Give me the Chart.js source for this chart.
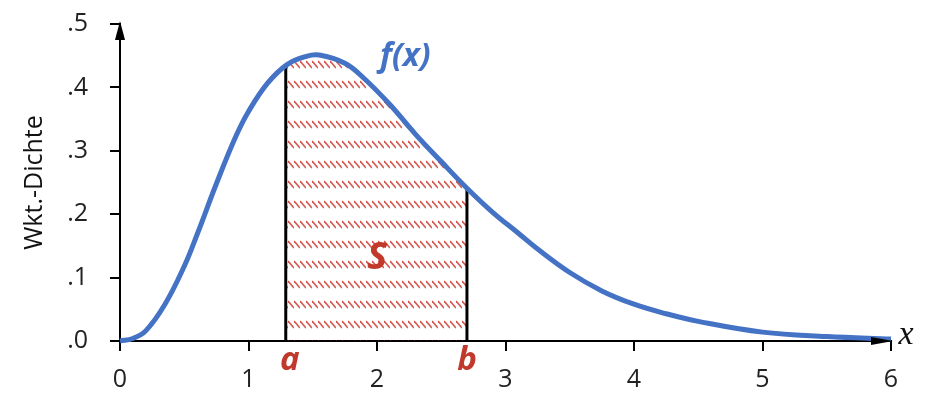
<!DOCTYPE html>
<html>
<head>
<meta charset="utf-8">
<script src="https://cdn.jsdelivr.net/npm/chart.js@4"></script>
<style>
  html, body { margin: 0; padding: 0; background: #fff; }
  #wrap { width: 942px; height: 404px; position: relative; }
</style>
</head>
<body>
<div id="wrap"><canvas id="chart"></canvas></div>
<script>
// values
const xValues = [0, 0.1, 0.2, 0.35, 0.5, 0.6, 0.75, 0.9, 1.0, 1.15, 1.3, 1.45, 1.55, 1.75, 1.9, 2.1, 2.3, 2.5, 2.7, 2.9, 3.1, 3.25, 3.5, 3.75, 4.0, 4.25, 4.5, 5.0, 5.5, 6.0];
const densityValues = [0, 0.004, 0.016, 0.058, 0.118, 0.168, 0.248, 0.322, 0.362, 0.407, 0.436, 0.449, 0.451, 0.438, 0.414, 0.373, 0.326, 0.283, 0.241, 0.203, 0.170, 0.145, 0.108, 0.079, 0.058, 0.043, 0.031, 0.014, 0.007, 0.003];
const boundA = 1.29;
const boundB = 2.70;
const densityAtA = 0.435;
const densityAtB = 0.241;
const xTickLabels = ['0', '1', '2', '3', '4', '5', '6'];
const yTickLabels = ['.0', '.1', '.2', '.3', '.4', '.5'];

const curvePoints = xValues.map((x, i) => ({ x: x, y: densityValues[i] }));
const areaPoints = [{ x: boundA, y: densityAtA }]
  .concat(curvePoints.filter(p => p.x > boundA && p.x < boundB))
  .concat([{ x: boundB, y: densityAtB }]);

// red hatching tile
function makeHatch() {
  const tile = document.createElement('canvas');
  tile.width = 6;
  tile.height = 20;
  const t = tile.getContext('2d');
  t.strokeStyle = '#d65a52';
  t.lineWidth = 1.7;
  t.beginPath();
  t.moveTo(0, 1);
  t.lineTo(6, 8);
  t.stroke();
  return document.getElementById('chart').getContext('2d').createPattern(tile, 'repeat');
}

const labelFont = "'Open Sans', 'Noto Sans', sans-serif";

const overlay = {
  id: 'overlay',
  afterDraw(chart) {
    const ctx = chart.ctx;
    const xs = chart.scales.x, ys = chart.scales.y;
    const x0 = xs.getPixelForValue(0), y0 = ys.getPixelForValue(0);
    const yTop = ys.getPixelForValue(0.5), xEnd = xs.getPixelForValue(6);
    ctx.save();
    ctx.fillStyle = '#000';
    // arrow on y axis
    ctx.beginPath();
    ctx.moveTo(x0, yTop - 3);
    ctx.lineTo(x0 - 5, yTop + 16);
    ctx.lineTo(x0 + 5, yTop + 16);
    ctx.closePath();
    ctx.fill();
    // arrow on x axis
    ctx.beginPath();
    ctx.moveTo(xEnd + 2, y0);
    ctx.lineTo(xEnd - 20, y0 - 4);
    ctx.lineTo(xEnd - 20, y0 + 4);
    ctx.closePath();
    ctx.fill();

    ctx.textAlign = 'center';
    ctx.textBaseline = 'middle';
    ctx.fillStyle = '#111';
    ctx.font = "italic 34px 'Liberation Serif', serif";
    ctx.fillText('x', xEnd + 15, y0 - 6);

    ctx.fillStyle = '#4472c4';
    ctx.font = 'italic bold 32px ' + labelFont;
    ctx.fillText('f(x)', xs.getPixelForValue(2.22), ys.getPixelForValue(0.448));

    ctx.fillStyle = '#c0392b';
    ctx.font = 'italic bold 38px ' + labelFont;
    ctx.fillText('S', xs.getPixelForValue(2.0), ys.getPixelForValue(0.13));
    ctx.font = 'italic bold 33px ' + labelFont;
    ctx.fillText('a', xs.getPixelForValue(boundA) + 4, y0 + 20);
    ctx.fillText('b', xs.getPixelForValue(boundB), y0 + 20);
    ctx.restore();
  }
};

new Chart(document.getElementById('chart'), {
  type: 'scatter',
  data: {
    datasets: [
      {
        data: curvePoints,
        showLine: true,
        borderColor: '#4472c4',
        borderWidth: 5,
        pointRadius: 0,
        tension: 0.4,
        clip: 10,
        order: 0
      },
      {
        data: [{ x: boundA, y: 0 }, { x: boundA, y: densityAtA }],
        showLine: true,
        borderColor: '#000',
        borderWidth: 3,
        pointRadius: 0,
        order: 1
      },
      {
        data: [{ x: boundB, y: 0 }, { x: boundB, y: densityAtB }],
        showLine: true,
        borderColor: '#000',
        borderWidth: 3,
        pointRadius: 0,
        order: 1
      },
      {
        data: areaPoints,
        showLine: true,
        borderWidth: 0,
        borderColor: 'rgba(0,0,0,0)',
        backgroundColor: makeHatch(),
        fill: 'origin',
        pointRadius: 0,
        tension: 0.4,
        order: 2
      }
    ]
  },
  options: {
    responsive: true,
    maintainAspectRatio: false,
    animation: false,
    layout: { padding: { left: 0, right: 51, top: 24, bottom: 0 } },
    plugins: {
      legend: { display: false },
      tooltip: { enabled: false }
    },
    scales: {
      x: {
        type: 'linear',
        min: 0,
        max: 6,
        afterFit: s => { s.height = 63; s.paddingLeft = 0; s.paddingRight = 0; },
        border: { display: true, color: '#000', width: 2 },
        grid: { drawOnChartArea: false, drawTicks: true, tickLength: 10, color: '#000', lineWidth: 2 },
        ticks: {
          stepSize: 1,
          padding: 14,
          color: '#222',
          font: { family: labelFont, size: 25 },
          maxRotation: 0,
          callback: (v, i) => xTickLabels[i]
        }
      },
      y: {
        min: 0,
        max: 0.5,
        afterFit: s => { s.width = 120; s.paddingTop = 0; s.paddingBottom = 0; },
        border: { display: true, color: '#000', width: 2 },
        grid: { drawOnChartArea: false, drawTicks: true, tickLength: 10, color: '#000', lineWidth: 2 },
        title: {
          display: true,
          text: 'Wkt.-Dichte',
          color: '#111',
          font: { family: labelFont, size: 25 },
          padding: { top: 20, bottom: 0 }
        },
        ticks: {
          stepSize: 0.1,
          padding: 22,
          color: '#222',
          font: { family: labelFont, size: 25 },
          callback: (v, i) => yTickLabels[i]
        }
      }
    }
  },
  plugins: [overlay]
});
</script>
</body>
</html>
